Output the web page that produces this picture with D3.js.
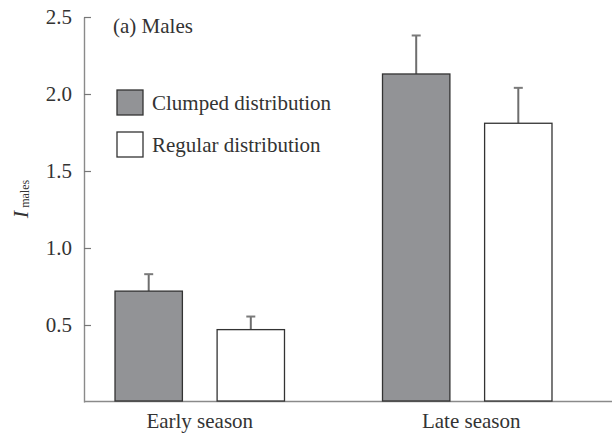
<!DOCTYPE html>
<html>
<head>
<meta charset="utf-8">
<script src="https://cdn.jsdelivr.net/npm/d3@7"></script>
<style>
  html, body { margin: 0; padding: 0; background: #fff; }
  svg { display: block; font-family: "Liberation Serif", "Times New Roman", serif; }
</style>
</head>
<body>
<svg id="chart" width="612" height="434"></svg>
<script>
const seasons = ["Early season", "Late season"];
const series = ["Clumped distribution", "Regular distribution"];
const clumpedMean = [0.72, 2.13];
const clumpedUpper = [0.83, 2.38];
const regularMean = [0.47, 1.81];
const regularUpper = [0.555, 2.04];
const yTicks = [0.5, 1.0, 1.5, 2.0, 2.5];

const fills = ["#929396", "#ffffff"];
const means = [clumpedMean, regularMean];
const uppers = [clumpedUpper, regularUpper];
const FONT = "Liberation Serif, Times New Roman, serif";

const svg = d3.select("#chart");
const axisX = 84, baseY = 402, topY = 17;

const y = d3.scaleLinear().domain([0, 2.5]).range([baseY, topY]);
const x0 = d3.scaleBand().domain(seasons).range([66, 601]);
const x1 = d3.scaleBand().domain(series).range([0, x0.bandwidth()])
  .paddingInner(0.34).paddingOuter(0.48);

// Y axis (ticks pointing inward)
const yAxis = d3.axisLeft(y).tickValues(yTicks).tickFormat(d3.format(".1f"))
  .tickSizeInner(-7).tickSizeOuter(0).tickPadding(12);
const gy = svg.append("g").attr("transform", `translate(${axisX},0)`).call(yAxis)
  .attr("font-family", FONT);
gy.select(".domain").attr("stroke", "#8a8a8a").attr("stroke-width", 1.4);
gy.selectAll(".tick line").attr("stroke", "#777").attr("stroke-width", 1.2);
gy.selectAll(".tick text").attr("font-size", 21).attr("fill", "#333")
  .attr("font-family", FONT);

// X baseline
svg.append("line").attr("x1", axisX).attr("x2", 612)
  .attr("y1", baseY - 0.5).attr("y2", baseY - 0.5)
  .attr("stroke", "#8a8a8a").attr("stroke-width", 1.4);

// Bars
const rows = [];
seasons.forEach((s, i) => series.forEach((k, j) => rows.push({season: s, key: k, j, mean: means[j][i], upper: uppers[j][i]})));

const g = svg.append("g");
g.selectAll(".err").data(rows).join("line")
  .attr("x1", d => x0(d.season) + x1(d.key) + x1.bandwidth() / 2)
  .attr("x2", d => x0(d.season) + x1(d.key) + x1.bandwidth() / 2)
  .attr("y1", d => y(d.mean)).attr("y2", d => y(d.upper))
  .attr("stroke", "#6e6e6e").attr("stroke-width", 2);
g.selectAll(".cap").data(rows).join("line")
  .attr("x1", d => x0(d.season) + x1(d.key) + x1.bandwidth() / 2 - 4.5)
  .attr("x2", d => x0(d.season) + x1(d.key) + x1.bandwidth() / 2 + 4.5)
  .attr("y1", d => y(d.upper)).attr("y2", d => y(d.upper))
  .attr("stroke", "#7a7a7a").attr("stroke-width", 2);

g.selectAll(".bar").data(rows).join("rect")
  .attr("x", d => x0(d.season) + x1(d.key))
  .attr("width", x1.bandwidth())
  .attr("y", d => y(d.mean))
  .attr("height", d => y(0) - y(d.mean) - 1)
  .attr("fill", d => fills[d.j])
  .attr("stroke", "#333").attr("stroke-width", 1.3);

// Category labels
svg.selectAll(".cat").data(seasons).join("text")
  .attr("x", d => x0(d) + x0.bandwidth() / 2 + (d === "Late season" ? 4 : 0))
  .attr("y", 428).attr("text-anchor", "middle")
  .attr("font-size", 21).attr("fill", "#333").text(d => d);

// Panel title
svg.append("text").attr("x", 113).attr("y", 33)
  .attr("font-size", 21).attr("fill", "#333").text("(a) Males");

// Legend
const legY = [90, 132];
series.forEach((k, j) => {
  svg.append("rect").attr("x", 117).attr("y", legY[j]).attr("width", 26).attr("height", 25)
    .attr("fill", fills[j]).attr("stroke", "#333").attr("stroke-width", 1.3);
  svg.append("text").attr("x", 152).attr("y", legY[j] + 20)
    .attr("font-size", 21).attr("fill", "#333").text(k);
});

// Y label
const yl = svg.append("text").attr("transform", "translate(28,199) rotate(-90)")
  .attr("text-anchor", "middle").attr("fill", "#333");
yl.append("tspan").attr("font-style", "italic").attr("font-size", 22).text("I");
yl.append("tspan").attr("font-size", 12).attr("dx", 3).attr("dy", 1).text("males");
</script>
</body>
</html>
